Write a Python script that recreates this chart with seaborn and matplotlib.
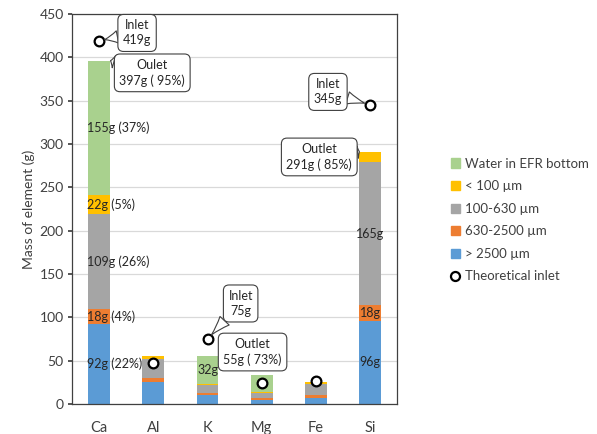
import matplotlib
matplotlib.use("Agg")
import matplotlib.pyplot as plt
from matplotlib.patches import Patch
from matplotlib.lines import Line2D
import numpy as np
import pandas as pd
import seaborn as sns

sns.set_theme(style="white")
plt.rcParams["font.family"] = ["Lato", "DejaVu Sans"]

elements = ["Ca", "Al", "K", "Mg", "Fe", "Si"]
gt2500 = [92, 25, 11, 5, 7, 96]
f630_2500 = [18, 5, 2, 2, 3, 18]
f100_630 = [109, 22, 9, 6, 13, 165]
lt100 = [22, 3, 1, 1, 2, 12]
water = [155, 0, 32, 19, 0, 0]
inlet = [419, 47, 75, 24, 27, 345]

layers = ["> 2500 µm", "630-2500 µm", "100-630 µm", "< 100 µm", "Water in EFR bottom"]
colors = ["#5B9BD5", "#ED7D31", "#A5A5A5", "#FFC000", "#A9D18E"]

df = pd.DataFrame({"element": elements, layers[0]: gt2500, layers[1]: f630_2500,
                   layers[2]: f100_630, layers[3]: lt100, layers[4]: water})
cum = df[layers].cumsum(axis=1)

fig = plt.figure(figsize=(5.97, 4.34), dpi=100)
ax = fig.add_axes([0.1206, 0.069, 0.545, 0.899])

# stacked bars: draw cumulative totals from the top layer down
for lay, col in zip(layers[::-1], colors[::-1]):
    sns.barplot(x=df["element"], y=cum[lay], color=col, width=0.4,
                linewidth=0, saturation=1, ax=ax, zorder=2)

sns.stripplot(x=elements, y=inlet, jitter=False, color="white", edgecolor="black",
              linewidth=1.6, size=7, ax=ax, zorder=5)

ax.set_ylim(0, 450)
ax.set_xlim(-0.5, 5.5)
ax.set_yticks(np.arange(0, 451, 50))
ax.yaxis.grid(True, color="#d9d9d9", lw=0.9)
ax.set_axisbelow(True)
for s in ax.spines.values():
    s.set_color("#404040")
    s.set_linewidth(0.9)
ax.tick_params(axis="y", left=True, length=3, color="#404040", labelsize=10,
               labelcolor="#404040", pad=3)
ax.tick_params(axis="x", bottom=False, labelsize=10.5, labelcolor="#404040", pad=6)
ax.set_xlabel("")
ax.set_ylabel("Mass of element (g)", fontsize=10, color="#404040", labelpad=3)

tc = "#262626"
# Ca segment labels
ca_labels = ["92g (22%)", "18g (4%)", "109g (26%)", "22g (5%)", "155g (37%)"]
ca_vals = df.loc[0, layers].to_numpy()
ca_cum = cum.loc[0].to_numpy()
for lab, v, c in zip(ca_labels, ca_vals, ca_cum):
    ax.text(-0.215, c - v / 2, lab, ha="left", va="center", fontsize=9, color=tc, zorder=6)
# Si segment labels
si_labels = ["96g", "18g", "165g"]
for i, lab in enumerate(si_labels):
    ax.text(5, cum.iloc[5, i] - df.iloc[5][layers[i]] / 2, lab, ha="center",
            va="center", fontsize=9, color=tc, zorder=6)
ax.text(2, cum.iloc[2, 4] - water[2] / 2, "32g", ha="center", va="center",
        fontsize=9, color=tc, zorder=6)

box = dict(boxstyle="round,pad=0.4,rounding_size=0.45", fc="white", ec="#404040", lw=0.8)
arrow = dict(arrowstyle="wedge,tail_width=1.0,shrink_factor=0.4", fc="white",
             ec="#404040", lw=0.8, shrinkA=0, shrinkB=4)
totals = cum[layers[-1]].to_numpy()
callouts = [
    ("Inlet\n419g", (0, inlet[0]), (0.70, 428)),
    ("Oulet\n397g ( 95%)", (0.21, totals[0]), (0.98, 382)),
    ("Inlet\n75g", (2, inlet[2]), (2.61, 116)),
    ("Outlet\n55g ( 73%)", (2.22, totals[2]), (2.83, 60)),
    ("Inlet\n345g", (5, inlet[5]), (4.22, 360)),
    ("Outlet\n291g ( 85%)", (4.8, totals[5]), (4.06, 285)),
]
for txt, xy, xyt in callouts:
    ax.annotate(txt, xy=xy, xytext=xyt, ha="center", va="center", fontsize=9,
                color=tc, bbox=box, arrowprops=arrow, zorder=7, linespacing=1.3)

handles = [Patch(color=c, label=l) for l, c in zip(layers[::-1], colors[::-1])]
handles.append(Line2D([], [], marker="o", ls="none", mfc="white", mec="black",
                      mew=1.6, ms=6.5, label="Theoretical inlet"))
fig.legend(handles=handles, loc="center left", bbox_to_anchor=(0.735, 0.493),
           frameon=False, fontsize=9.5, handlelength=0.7, handleheight=0.7,
           handletextpad=0.4, labelspacing=0.8, labelcolor="#404040")

fig.savefig("out.png", dpi=100)
